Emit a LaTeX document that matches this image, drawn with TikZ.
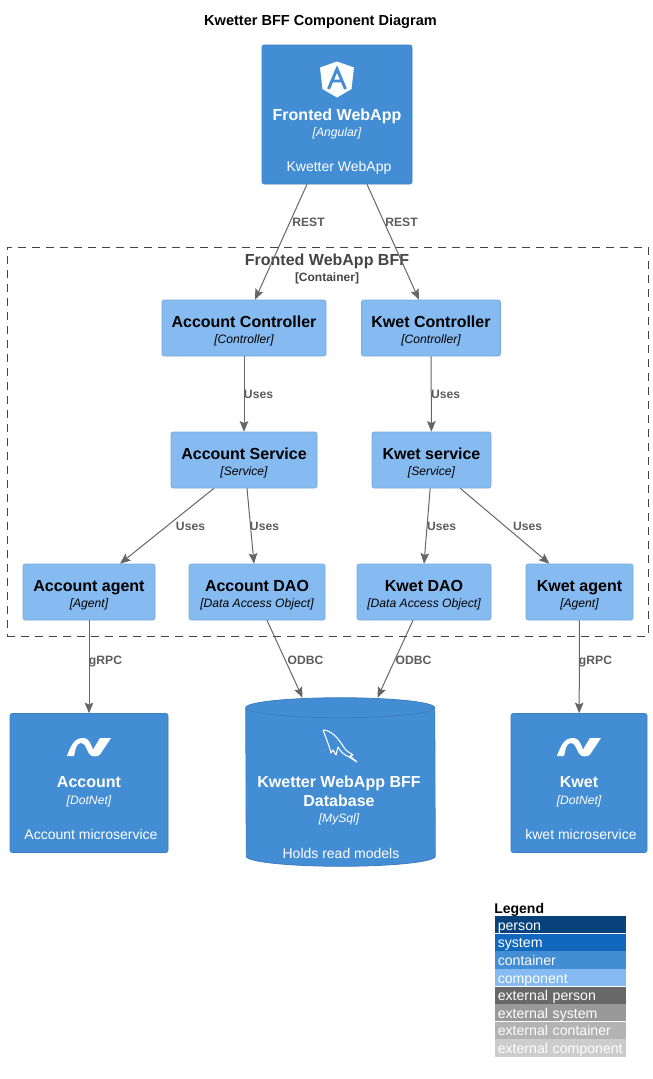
\documentclass[tikz,border=0pt]{standalone}
\usepackage{fontspec}
\setmainfont{Liberation Sans}
\usetikzlibrary{arrows.meta}
\definecolor{personcol}{HTML}{08427B}
\definecolor{systemcol}{HTML}{1168BD}
\definecolor{containercol}{HTML}{438DD5}
\definecolor{containerline}{HTML}{3C7FC0}
\definecolor{componentcol}{HTML}{85BBF0}
\definecolor{componentline}{HTML}{78A8D8}
\definecolor{extpersoncol}{HTML}{686868}
\definecolor{extsystemcol}{HTML}{999999}
\definecolor{extcontainercol}{HTML}{B3B3B3}
\definecolor{extcomponentcol}{HTML}{CCCCCC}
\definecolor{linecol}{HTML}{666666}
\definecolor{boundarycol}{HTML}{444444}
\newcommand{\boxname}[1]{{\fontsize{12}{13.5}\selectfont\bfseries #1}}
\newcommand{\boxtech}[1]{{\fontsize{9.1}{13.5}\selectfont\itshape [#1]}}
\newcommand{\boxdesc}[1]{{\fontsize{10.5}{13.5}\selectfont\hspace*{3pt}#1}}
\newcommand{\iconroom}[1]{\rule{0pt}{#1}\\}
\newcommand{\complabel}[2]{\rule{0pt}{13pt}\boxname{#1}\\[-1pt]\boxtech{#2}}
\tikzset{
  sized/.style 2 args={minimum width=#1*0.75pt, minimum height=#2*0.75pt},
  basebox/.style={rectangle, rounded corners=1.5pt, inner sep=0pt, align=center,
    font=\fontsize{9}{13.5}\selectfont},
  container/.style={basebox, draw=containerline, fill=containercol, text=white},
  component/.style={basebox, draw=componentline, fill=componentcol, text=black},
  rel/.style={draw=linecol, line width=0.75pt, -{Stealth[length=8pt,width=6.5pt,inset=1.5pt]}},
  rellabel/.style={text=linecol!90!black, inner sep=0pt, font=\fontsize{9.1}{11}\selectfont\bfseries},
  legendrow/.style={rectangle, anchor=north west, inner sep=0pt, text=white,
    text height=9pt, text depth=1pt, minimum width=98.25pt, minimum height=12.9pt,
    text width=94.5pt, align=left, font=\fontsize{10.6}{12}\selectfont},
  dbend/.style={x radius=94.5, y radius=10},
  dotnet/.pic={
    \fill[white, yscale=-1] (-22,8.5) .. controls (-18,-3) and (-14,-9.5) .. (-6,-9.5)
      .. controls (1,-9.5) and (2,-2) .. (4,2) -- (11,-9.5) -- (22,-9.5)
      -- (11,7) .. controls (9,9.5) and (2,10) .. (0,6) -- (-4,-2)
      .. controls (-7,-6) and (-11,-5) .. (-13,0) -- (-15,8.5) -- cycle;
  },
}
\begin{document}
\begin{tikzpicture}[x=0.75pt, y=0.75pt]
\useasboundingbox (0,0) rectangle (653,-1079);
\node[inner sep=0pt, font=\fontsize{10.9}{12}\selectfont\bfseries] (title) at (320.5,-21.5) {Kwetter BFF Component Diagram};

% boundary
\node[draw=boundarycol, dash pattern=on 6pt off 4.5pt, line width=0.6pt, rectangle, inner sep=0pt,
  sized={641}{389}] (bff) at (327.5,-441.5) {};
\node[inner sep=0pt, align=center, text=boundarycol, font=\fontsize{9}{13.5}\selectfont\bfseries] (bfftitle) at (327,-268.5)
  {{\fontsize{12}{13.5}\selectfont Fronted WebApp BFF}\\[-1.5pt]{\fontsize{9}{12}\selectfont [Container]}};

% containers
\node[container, sized={150}{139}] (webapp) at (337,-114.5)
  {\iconroom{35.5pt}\boxname{Fronted WebApp}\\[-1.25pt]\boxtech{Angular}\\[12.75pt]\boxdesc{Kwetter WebApp}};
\node[container, sized={158}{139}] (account) at (89,-783)
  {\iconroom{32.5pt}\boxname{Account}\\[-1.25pt]\boxtech{DotNet}\\[12.75pt]\boxdesc{Account microservice}};
\node[container, sized={136}{139}] (kwet) at (579,-783)
  {\iconroom{32.5pt}\boxname{Kwet}\\[-1.25pt]\boxtech{DotNet}\\[12.75pt]\boxdesc{kwet microservice}};
\node[inner sep=0pt, sized={189}{168}] (database) at (340.5,-782) {};
\filldraw[fill=containercol, draw=containerline, line width=0.6pt]
  ([yshift=-7.5pt]database.north west) arc[start angle=180, end angle=0, dbend]
  -- ([yshift=7.5pt]database.south east) arc[start angle=0, end angle=-180, dbend] -- cycle;
\draw[containerline, line width=0.6pt] ([yshift=-7.5pt]database.north west) arc[start angle=180, end angle=360, dbend];
\node[inner sep=0pt, align=center, text=white, font=\fontsize{9}{13.5}\selectfont] (databasetext) at (339,-817.5)
  {\boxname{Kwetter WebApp BFF}\\[0.75pt]\boxname{Database}\\[-1.25pt]\boxtech{MySql}\\[13.5pt]\boxdesc{Holds read models}};

% components
\node[component, sized={164}{56}] (accountctl) at (244,-328) {\complabel{Account Controller}{Controller}};
\node[component, sized={139}{56}] (kwetctl) at (431,-328) {\complabel{Kwet Controller}{Controller}};
\node[component, sized={146}{56}] (accountsvc) at (244,-460) {\complabel{Account Service}{Service}};
\node[component, sized={119}{56}] (kwetsvc) at (431.5,-460) {\complabel{Kwet service}{Service}};
\node[component, sized={132}{56}] (accountagent) at (89,-592) {\complabel{Account agent}{Agent}};
\node[component, sized={136}{56}] (accountdao) at (257,-592) {\complabel{Account DAO}{Data Access Object}};
\node[component, sized={134}{56}] (kwetdao) at (424,-592) {\complabel{Kwet DAO}{Data Access Object}};
\node[component, sized={107}{56}] (kwetagent) at (579.5,-592) {\complabel{Kwet agent}{Agent}};

% icons
\fill[white] (337,-61.5) -- (354,-67.5) -- (351.5,-89) -- (337,-97.5) -- (322.5,-89) -- (320,-67.5) -- cycle;
\draw[containercol, line width=2.2pt] (328.5,-89) -- (337,-69) -- (345.5,-89) (331.5,-81) -- (342.5,-81);
\pic at (89,-747.5) {dotnet};
\pic at (579,-747.5) {dotnet};
\draw[white, line width=0.8pt, line join=round] (323,-730) .. controls (331,-730) and (338,-738) .. (343,-746)
  .. controls (346,-752) and (351,-753) .. (353,-755) -- (350,-756) -- (357,-762) -- (349,-757)
  .. controls (344,-755) and (340,-751) .. (338,-747) -- (336,-755) -- (333,-750) -- (331,-753)
  .. controls (329,-745) and (326,-738) .. (323,-730);

% connectors
\draw[rel] ([xshift=-22.5pt]webapp.south) -- ([xshift=8.25pt]accountctl.north);
\draw[rel] ([xshift=22.5pt]webapp.south) -- ([xshift=-9pt]kwetctl.north);
\draw[rel] (accountctl) -- (accountsvc);
\draw[rel] (kwetctl) -- (kwetsvc);
\draw[rel] ([xshift=-22.5pt]accountsvc.south) -- ([xshift=23.25pt]accountagent.north);
\draw[rel] ([xshift=2.25pt]accountsvc.south) -- ([xshift=-2.25pt]accountdao.north);
\draw[rel] ([xshift=-1pt]kwetsvc.south) -- (kwetdao.north);
\draw[rel] ([xshift=21.5pt]kwetsvc.south) -- ([xshift=-22.5pt]kwetagent.north);
\draw[rel] (accountagent) -- (account);
\draw[rel] ([xshift=7.5pt]accountdao.south) -- ([xshift=-28.5pt]database.north);
\draw[rel] ([xshift=-8.25pt]kwetdao.south) -- ([xshift=27.75pt]database.north);
\draw[rel] (kwetagent) -- (kwet);

% connector labels
\node[rellabel] (restaccount) at (308.5,-222.5) {REST};
\node[rellabel] (restkwet) at (401.5,-222.5) {REST};
\node[rellabel] (usesaccount) at (258.5,-394.5) {Uses};
\node[rellabel] (useskwet) at (445.5,-394.5) {Uses};
\node[rellabel] (usesagent) at (190.5,-526.5) {Uses};
\node[rellabel] (usesdao) at (264.5,-526.5) {Uses};
\node[rellabel] (useskwetdao) at (441.5,-526.5) {Uses};
\node[rellabel] (useskwetagent) at (527.5,-526.5) {Uses};
\node[rellabel] (grpcaccount) at (105.5,-661.5) {gRPC};
\node[rellabel] (odbcaccount) at (305.5,-660.5) {ODBC};
\node[rellabel] (odbckwet) at (413.5,-660.5) {ODBC};
\node[rellabel] (grpckwet) at (595.5,-661.5) {gRPC};

% legend
\node[inner sep=0pt, anchor=west, font=\fontsize{10.5}{12}\selectfont\bfseries] (legend) at (494,-909.5) {Legend};
\foreach \rowname/\rowcol/\rowtext [count=\i from 0] in {
  person/personcol/person, system/systemcol/system, container/containercol/container,
  component/componentcol/component, extperson/extpersoncol/external person,
  extsystem/extsystemcol/external system, extcontainer/extcontainercol/external container,
  extcomponent/extcomponentcol/external component}
  \node[legendrow, fill=\rowcol] (legend\rowname) at (495,-916-17.6*\i) {\rowtext};
\end{tikzpicture}
\end{document}
